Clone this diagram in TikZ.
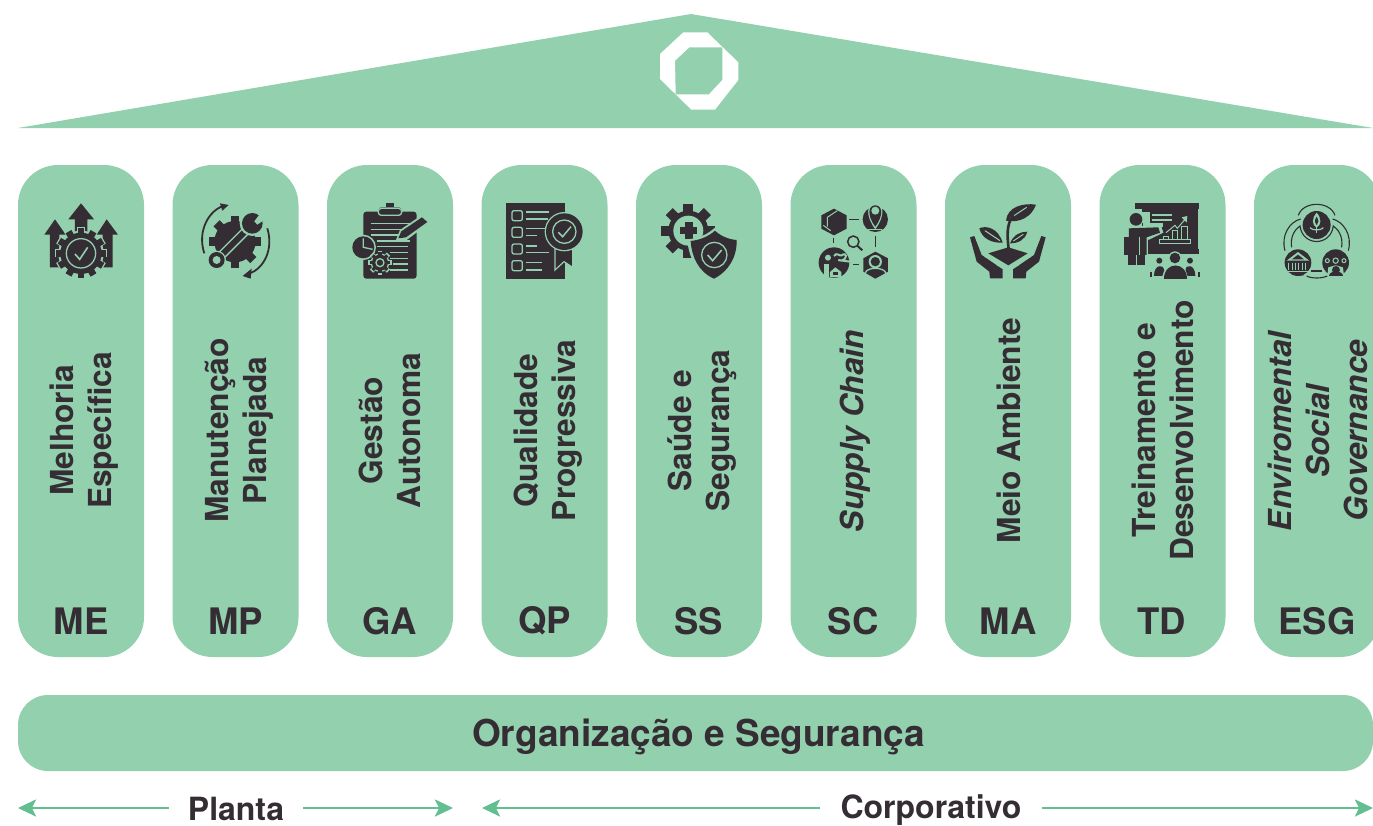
\documentclass[tikz,border=0pt]{standalone}
\usepackage{fontspec}
\setmainfont{TeX Gyre Heros}
\usetikzlibrary{arrows.meta}
\definecolor{gr}{HTML}{92D0AE}
\definecolor{ar}{HTML}{63BF92}
\definecolor{dk}{HTML}{352D34}
\tikzset{
 pillar/.style={fill=gr,draw=none,rounded corners=40pt,minimum width=126pt,minimum height=492pt,inner sep=0pt},
 abbr/.style={text=dk,font=\fontsize{36.5}{36.5}\selectfont\bfseries,inner sep=0pt},
 vlabel/.style={text=dk,rotate=90,align=center,inner sep=0pt,font=\fontsize{31.7}{38}\selectfont\bfseries},
 vital/.style={text=dk,rotate=90,align=center,inner sep=0pt,font=\fontsize{31.7}{38}\selectfont\bfseries\itshape},
 spanlabel/.style={text=dk,inner sep=0pt,font=\fontsize{32}{32}\selectfont\bfseries},
 rangearrow/.style={draw=ar,line width=2.6pt,-{Stealth[length=18pt,width=17pt,inset=4pt,fill=ar]},shorten >=0pt},
 gl/.style={draw=gr,line width=1.3pt},
 dl/.style={draw=dk,line width=1.5pt},
 ic/.style={x=0.3333pt,y=-0.3333pt}
}
\newcommand{\cogwheel}[7]{%
 \fill[#7] (#1,#2) circle (#3);
 \foreach \ci in {1,...,#6}{\fill[#7,rotate around={\ci*360/#6:(#1,#2)}] (#1-#5/2,#2-#3-#4) rectangle (#1+#5/2,#2);}}
\begin{document}
\begin{tikzpicture}[x=1pt,y=-1pt]
\useasboundingbox (0,0) rectangle (1373,825);
\clip (0,0) rectangle (1373,825);
% roof
\fill[gr] (18,128) -- (691,14) -- (1373,128) -- cycle;
\fill[white,even odd rule] (683.3,32.3) -- (707.3,32.3) -- (738.3,62.3) -- (738.3,80) -- (715,109.7) -- (691.3,109.7) -- (660,79) -- (660,54) -- cycle
 (689.3,47.3) -- (722.3,47.3) -- (722.3,80) -- (709,94.3) -- (675.7,94.3) -- (675,60.7) -- cycle;
% pillars
\foreach \n/\cx in {1/81,2/235.5,3/390,4/544.5,5/699,6/853.5,7/1008,8/1162.5,9/1317}{
 \node[pillar] (p\n) at (\cx,411) {};}
\node[abbr] (a1) at (81,621) {ME};
\node[abbr] (a2) at (235.5,621) {MP};
\node[abbr] (a3) at (390,621) {GA};
\node[abbr] (a4) at (544.5,621) {QP};
\node[abbr] (a5) at (698.5,621) {SS};
\node[abbr] (a6) at (853,621) {SC};
\node[abbr] (a7) at (1008,621) {MA};
\node[abbr] (a8) at (1162,621) {TD};
\node[abbr] (a9) at (1317,621) {ESG};
\node[vlabel] (t1) at (84.5,430.5) {Melhoria\\Específica};
\node[vlabel] (t2) at (239,430.5) {Manutenção\\Planejada};
\node[vlabel] (t3) at (390,430.5) {Gestão\\Autonoma};
\node[vlabel] (t4) at (548,430.5) {Qualidade\\Progressiva};
\node[vlabel] (t5) at (702.5,430.5) {Saúde e\\Segurança};
\node[vital] (t6) at (855,431) {Supply Chain};
\node[vlabel] (t7) at (1009,430.5) {Meio Ambiente};
\node[vlabel] (t8) at (1163,430.5) {Treinamento e\\Desenvolvimento};
\node[vlabel] (t9) at (1317.5,430.5) {\textit{Enviromental}\\\textit{Social}\\\textit{Governance}};
% base
\node[fill=gr,rounded corners=30pt,minimum width=1355pt,minimum height=76pt,inner sep=0pt] (base) at (695.5,733) {};
\node[text=dk,inner sep=0pt,font=\fontsize{37}{37}\selectfont\bfseries] (basetext) at (698.5,737) {Organização e Segurança};
% ranges
\node[spanlabel] (planta) at (236,809) {Planta};
\node[spanlabel] (corp) at (931,810) {Corporativo};
\coordinate (pl) at (18,808);\coordinate (pr) at (453,808);
\coordinate (cl) at (482,808);\coordinate (cr) at (1373,808);
\draw[rangearrow] ([xshift=-19pt,yshift=1pt]planta.west) -- (pl);
\draw[rangearrow] ([xshift=19pt,yshift=1pt]planta.east) -- (pr);
\draw[rangearrow] ([xshift=-20pt,yshift=2pt]corp.west) -- (cl);
\draw[rangearrow] ([xshift=20pt,yshift=2pt]corp.east) -- (cr);
%
% ICON 1
\begin{scope}[shift={(20,190)},ic]
\fill[dk] (183,40) -- (222,88) -- (202,88) -- (202,125) -- (165,125) -- (165,88) -- (145,88) -- cycle;
\fill[dk] (105,88) -- (137,134) -- (118,134) -- (118,232) -- (90,232) -- (90,134) -- (73,134) -- cycle;
\fill[dk] (260,88) -- (294,134) -- (278,134) -- (278,232) -- (248,232) -- (248,134) -- (230,134) -- cycle;
\cogwheel{183}{190}{68}{11}{24}{12}{gr}
\cogwheel{183}{190}{62}{13}{20}{12}{dk}
\draw[gl] (183,190) circle (44);
\draw[draw=gr,line width=1.6pt] (165,192) -- (179,208) -- (203,172);
\end{scope}
% ICON 2
\begin{scope}[shift={(20,190)},ic]
\cogwheel{645}{155}{62}{16}{26}{8}{dk}
\draw[draw=gr,line width=9pt] (575,225) -- (715,85);
\draw[draw=dk,line width=6pt] (590,210) -- (695,105);
\fill[gr] (590,210) circle (28);
\fill[dk] (590,210) circle (24);
\fill[gr] (590,210) circle (12);
\fill[gr] (697,100) circle (38);
\fill[dk] (697,100) circle (31);
\fill[gr] (703,94) -- (725,65) -- (740,85) -- (712,104) -- cycle;
\draw[draw=dk,line width=1.8pt] (553,190) .. controls (530,120) and (570,60) .. (610,48);
\fill[dk] (600,40) -- (626,45) -- (607,62) -- cycle;
\draw[draw=dk,line width=1.8pt] (742,115) .. controls (762,180) and (730,235) .. (690,250);
\fill[dk] (668,258) -- (695,236) -- (692,266) -- cycle;
\end{scope}
% ICON 3
\begin{scope}[shift={(20,190)},ic]
\fill[dk,rounded corners=3pt] (1030,65) rectangle (1190,266);
\fill[dk] (1098,40) rectangle (1122,50);
\fill[dk,rounded corners=3pt] (1075,52) rectangle (1145,76);
\draw[gl,rounded corners=3pt] (1075,55) rectangle (1145,76);
\foreach \yy/\xa/\xb in {100/1052/1170,118/1052/1165,135/1052/1140,153/1070/1170,170/1070/1165,188/1110/1165,205/1110/1165,222/1120/1165,240/1110/1165}{
 \draw[gl] (\xa,\yy) -- (\xb,\yy);}
\fill[gr] (1128,150) -- (1140,120) -- (1210,72) -- (1230,98) -- (1160,150) -- cycle;
\fill[dk] (1135,145) -- (1144,124) -- (1206,82) -- (1222,96) -- (1158,142) -- cycle;
\fill[gr] (1030,172) circle (38);
\fill[dk] (1030,172) circle (33);
\draw[gl] (1030,145) -- (1030,172) -- (1058,178);
\cogwheel{1080}{218}{28}{8}{14}{8}{gr}
\cogwheel{1080}{218}{24}{7}{10}{8}{dk}
\draw[gl] (1080,218) circle (12);
\end{scope}
% ICON 4
\begin{scope}[shift={(480,190)},ic]
\fill[dk] (78,40) rectangle (254,266);
\foreach \yy in {62,112,162,212}{\draw[gl,rounded corners=2pt] (96,\yy) rectangle (127,\yy+30);}
\foreach \yy/\xb in {66/207,87/205,116/195,137/172,168/172,188/207,218/186,240/186}{\draw[gl] (138,\yy) -- (\xb,\yy);}
\fill[dk,draw=gr,line width=1.2pt] (225,172) -- (278,172) -- (278,232) -- (252,215) -- (225,240) -- cycle;
\fill[gr] (253,125) circle (59);
\fill[dk] (253,125) circle (55);
\draw[gl] (253,125) circle (35);
\draw[draw=gr,line width=1.5pt] (235,127) -- (248,140) -- (273,110);
\end{scope}
% ICON 5
\begin{scope}[shift={(480,190)},ic]
\cogwheel{625}{122}{60}{21}{30}{8}{dk}
\fill[gr] (625,122) circle (45);
\fill[dk] (600,110) rectangle (652,133);
\fill[dk] (614,96) rectangle (638,148);
\fill[gr] (705,113) .. controls (680,135) and (655,145) .. (622,148) .. controls (625,200) and (650,250) .. (702,275) .. controls (750,250) and (780,200) .. (780,145) .. controls (750,143) and (725,133) .. (705,113) -- cycle;
\fill[dk] (705,122) .. controls (685,140) and (660,150) .. (632,153) .. controls (635,200) and (655,245) .. (702,266) .. controls (745,245) and (772,200) .. (770,150) .. controls (745,148) and (722,138) .. (705,122) -- cycle;
\draw[gl] (703,195) circle (38);
\draw[draw=gr,line width=1.6pt] (683,195) -- (698,212) -- (725,180);
\end{scope}
% ICON 6
\begin{scope}[shift={(480,190)},ic]
\fill[dk] (1062,56) -- (1100,76) -- (1100,116) -- (1062,136) -- (1024,116) -- (1024,76) -- cycle;
\draw[gl,line width=1pt] (1042,110) -- (1042,82) -- (1072,62);
\draw[gl,line width=1pt] (1030,106) -- (1052,122);
\fill[dk] (1186,88) circle (38);
\fill[gr] (1186,42) .. controls (1160,42) and (1155,75) .. (1186,118) .. controls (1217,75) and (1212,42) .. (1186,42) -- cycle;
\fill[dk] (1186,46) .. controls (1165,46) and (1160,75) .. (1186,110) .. controls (1212,75) and (1207,46) .. (1186,46) -- cycle;
\fill[gr] (1186,62) circle (12);
\draw[gl] (1165,118) -- (1207,118);
\draw[dl] (1108,89) -- (1138,89);
\draw[dl] (1060,143) -- (1060,158);
\draw[dl] (1186,138) -- (1186,170);
\draw[dl] (1120,224) -- (1138,224);
\draw[dl] (1120,155) circle (17);
\draw[draw=dk,line width=2pt] (1133,168) -- (1147,181);
\fill[dk] (1062,218) circle (46);
\fill[gr] (1044,203) circle (9);
\fill[gr] (1032,222) rectangle (1048,262);
\draw[gl,line width=2pt] (1062,198) .. controls (1070,185) and (1080,200) .. (1085,196) .. controls (1100,185) and (1105,205) .. (1085,212) -- (1075,210) -- (1110,215);
\fill[gr] (1066,232) -- (1084,246) -- (1084,262) -- (1050,262) -- (1050,246) -- cycle;
\fill[dk] (1060,246) rectangle (1074,256);
\fill[dk] (1186,185) -- (1224,205) -- (1224,245) -- (1186,266) -- (1150,245) -- (1150,205) -- cycle;
\fill[gr] (1186,215) circle (20);
\fill[dk] (1186,215) circle (14);
\draw[draw=gr,line width=1.3pt] (1156,250) .. controls (1158,230) and (1214,230) .. (1218,250);
\end{scope}
% ICON 7
\begin{scope}[shift={(930,190)},ic]
\fill[dk] (228,92) .. controls (232,50) and (280,38) .. (318,44) .. controls (305,80) and (270,100) .. (228,92) -- cycle;
\draw[gl,line width=1pt] (240,85) -- (290,52);
\draw[draw=dk,line width=2.6pt] (250,75) .. controls (228,105) and (232,140) .. (236,178);
\fill[dk] (148,115) .. controls (170,105) and (205,115) .. (218,158) .. controls (185,160) and (155,145) .. (148,115) -- cycle;
\draw[gl,line width=1pt] (165,122) -- (210,152);
\fill[dk] (240,160) .. controls (250,135) and (270,125) .. (292,125) .. controls (285,150) and (265,160) .. (240,160) -- cycle;
\draw[gl,line width=1pt] (250,153) -- (280,133);
\fill[dk] (175,190) -- (235,172) -- (293,190) -- (235,226) -- cycle;
\fill[dk] (120,142) -- (133,138) -- (155,195) -- (218,238) -- (218,265) -- (180,265) -- (178,245) -- (140,215) -- cycle;
\fill[dk] (347,142) -- (334,138) -- (312,195) -- (249,238) -- (249,265) -- (287,265) -- (289,245) -- (327,215) -- cycle;
\draw[gl,line width=1pt] (140,150) -- (160,192);
\draw[gl,line width=1pt] (327,150) -- (307,192);
\draw[gl,line width=1pt] (165,200) .. controls (185,205) and (195,215) .. (205,228);
\draw[gl,line width=1pt] (302,200) .. controls (282,205) and (272,215) .. (262,228);
\end{scope}
% ICON 8
\begin{scope}[shift={(930,190)},ic]
\fill[dk] (616,40) rectangle (808,56);
\fill[dk] (635,56) rectangle (803,176);
\fill[dk] (654,176) rectangle (808,191);
\fill[gr] (635,66) rectangle (660,100);
\fill[gr] (640,100) rectangle (700,112);
\draw[gl] (665,75) -- (727,75);
\draw[gl] (665,90) -- (727,90);
\fill[gr] (590,108) rectangle (655,200);
\fill[gr] (650,103) -- (692,103) -- (700,128) -- (655,150) -- cycle;
\fill[dk] (618,88) circle (19);
\fill[dk] (597,115) -- (685,112) -- (690,128) -- (650,142) -- (650,195) -- (597,195) -- cycle;
\fill[dk] (593,195) rectangle (617,224);
\fill[dk] (622,195) rectangle (645,224);
\fill[dk] (583,140) rectangle (628,195);
\draw[gl] (628,140) -- (628,195);
\draw[gl,line width=1pt] (708,128) -- (735,106) -- (742,115) -- (768,85);
\fill[gr] (755,82) -- (772,78) -- (770,98) -- cycle;
\draw[gl,line width=1pt] (690,150) rectangle (782,162);
\draw[gl,line width=1pt] (702,150) -- (702,138) -- (716,138) -- (716,150);
\draw[gl,line width=1pt] (728,150) -- (728,122) -- (744,122) -- (744,150);
\draw[gl,line width=1pt] (756,150) -- (756,108) -- (772,108) -- (772,150);
\fill[gr] (735,204) circle (20);
\fill[gr] (695,266) .. controls (695,205) and (775,205) .. (775,266) -- cycle;
\fill[dk] (735,204) circle (16);
\fill[dk] (702,266) .. controls (702,212) and (770,212) .. (770,266) -- cycle;
\fill[dk] (688,212) circle (9);
\fill[dk] (780,212) circle (9);
\fill[dk] (672,258) .. controls (672,222) and (702,222) .. (703,240) -- (697,258) -- cycle;
\fill[dk] (796,258) .. controls (796,222) and (766,222) .. (767,240) -- (773,258) -- cycle;
\fill[dk] (659,245) rectangle (666,260);
\fill[dk] (803,245) rectangle (810,260);
\end{scope}
% ICON 9
\begin{scope}[shift={(930,190)},ic]
\fill[dk] (1160,105) circle (42);
\fill[gr] (1160,68) .. controls (1145,85) and (1145,105) .. (1160,113) .. controls (1175,105) and (1175,85) .. (1160,68) -- cycle;
\fill[dk] (1160,80) .. controls (1153,90) and (1153,100) .. (1160,106) .. controls (1167,100) and (1167,90) .. (1160,80) -- cycle;
\draw[gl,line width=1.2pt] (1160,106) -- (1160,130);
\draw[gl,line width=1.2pt] (1140,113) .. controls (1145,122) and (1175,122) .. (1180,113);
\draw[dl,line width=1.1pt] (1105,76) .. controls (1120,32) and (1200,32) .. (1215,76);
\draw[dl,line width=1.1pt] (1065,182) .. controls (1052,135) and (1080,95) .. (1112,87);
\draw[dl,line width=1.1pt] (1255,182) .. controls (1268,135) and (1240,95) .. (1208,87);
\draw[dl,line width=1.1pt] (1085,172) .. controls (1080,140) and (1095,118) .. (1110,108) .. controls (1118,170) and (1202,170) .. (1210,108) .. controls (1225,118) and (1240,140) .. (1235,172);
\fill[dk] (1104,218) circle (40);
\fill[gr] (1104,186) -- (1138,212) -- (1070,212) -- cycle;
\fill[dk] (1104,194) -- (1122,208) -- (1086,208) -- cycle;
\foreach \xx in {1076,1086,1096,1106,1116,1126}{\draw[gl,line width=0.9pt] (\xx,218) -- (\xx,240);}
\draw[gl,line width=1pt] (1070,244) -- (1138,244);
\fill[dk] (1217,218) circle (40);
\foreach \xx/\rr in {1192/6,1217/8,1242/6}{\draw[gl,line width=1pt] (\xx,212) circle (\rr);}
\fill[gr] (1217,226) -- (1195,232) -- (1192,258) -- (1242,258) -- (1239,232) -- cycle;
\fill[dk] (1218,240) circle (12);
\fill[dk] (1198,258) .. controls (1198,240) and (1238,240) .. (1238,258) -- cycle;
\draw[dl,line width=1.1pt] (1085,252) -- (1120,255);
\draw[dl,line width=1.1pt] (1143,243) -- (1175,243);
\draw[dl,line width=1.1pt] (1130,258) .. controls (1145,266) and (1175,266) .. (1192,258);
\end{scope}
\end{tikzpicture}
\end{document}
